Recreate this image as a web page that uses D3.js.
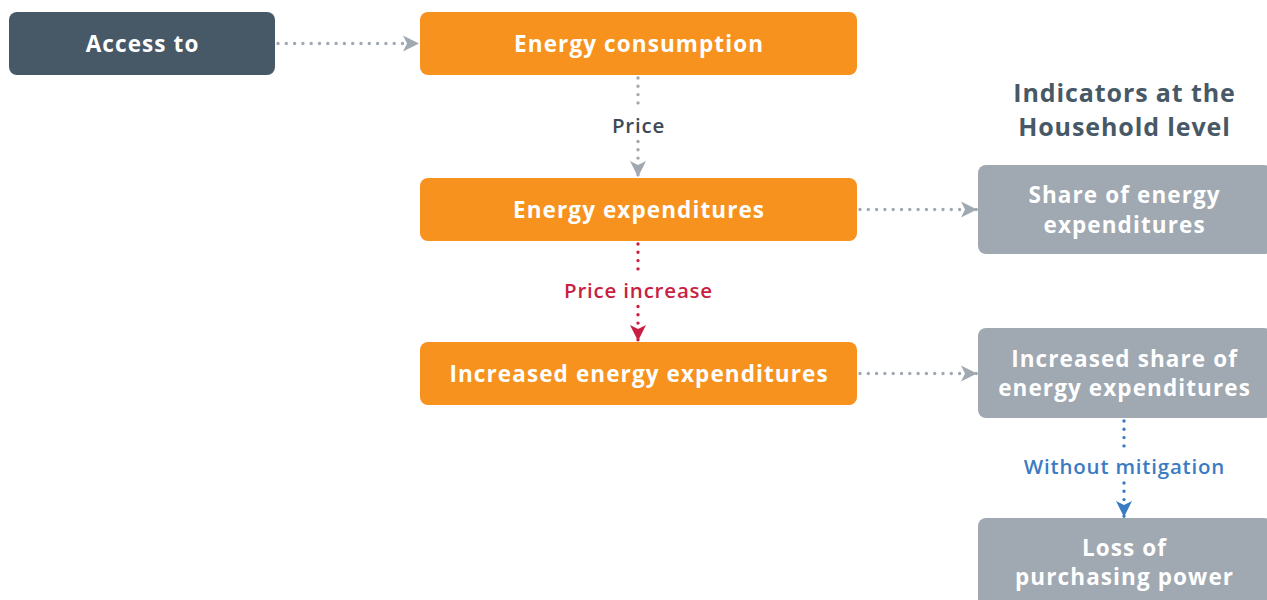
<!DOCTYPE html>
<html><head><meta charset="utf-8">
<script src="https://cdn.jsdelivr.net/npm/d3@7"></script>
<style>body{margin:0;background:#fff}svg{display:block}</style>
</head><body>
<svg id="c" width="1267" height="600"></svg>
<script>
// Nodes: id, label lines, kind
const nodeIds = ["access","cons","exp","inc","share","incshare","loss"];
const nodeLabels = [["Access to"],["Energy consumption"],["Energy expenditures"],["Increased energy expenditures"],["Share of energy","expenditures"],["Increased share of","energy expenditures"],["Loss of","purchasing power"]];
const nodeKinds = ["dark","orange","orange","orange","gray","gray","gray"];
// Edges: from, to, label, kind
const edgeFrom = ["access","cons","exp","exp","inc","incshare"];
const edgeTo = ["cons","exp","inc","share","incshare","loss"];
const edgeLabels = ["","Price","Price increase","","","Without mitigation"];
const edgeKinds = ["gray","gray","red","gray","gray","blue"];
const titleLines = ["Indicators at the","Household level"];

const colors = {dark:"#475866",orange:"#F7921E",gray:"#A0A8B1",red:"#C91F43",blue:"#3B7BC3",label:"#3D4A55"};
// layout
const layout = {
  access:{x:9,y:12,w:266,h:63},
  cons:{x:420,y:12,w:437,h:63},
  exp:{x:420,y:178,w:437,h:63},
  inc:{x:420,y:342,w:437,h:63},
  share:{x:978,y:165,w:294,h:89},
  incshare:{x:978,y:328,w:294,h:90},
  loss:{x:978,y:518,w:294,h:100}
};
const font = "'Open Sans', sans-serif";
const svg = d3.select("#c");
const defs = svg.append("defs");
Object.entries({gray:colors.gray,red:colors.red,blue:colors.blue}).forEach(([k,c])=>{
  defs.append("marker").attr("id","m-"+k).attr("viewBox","0 0 20 20").attr("refX",18).attr("refY",10)
    .attr("markerWidth",20).attr("markerHeight",20).attr("markerUnits","userSpaceOnUse").attr("orient","auto")
    .append("path").attr("d","M2,2 L18,10 L2,18 L6,10 Z").attr("fill",c);
});
const nodes = nodeIds.map((id,i)=>({id,lines:nodeLabels[i],kind:nodeKinds[i],...layout[id]}));
const byId = Object.fromEntries(nodes.map(n=>[n.id,n]));

const edges = edgeFrom.map((f,i)=>{
  const a=byId[f], b=byId[edgeTo[i]];
  let x1,y1,x2,y2;
  if (b.x > a.x + a.w) { // horizontal
    const cy = a.y + a.h/2;
    x1=a.x+a.w+3; y1=cy; x2=b.x-1; y2=cy;
  } else {
    const cx = (edgeTo[i]==="loss") ? a.x+146 : a.x+a.w/2 - 0.5;
    x1=cx; y1=a.y+a.h+3; x2=cx; y2=b.y-1;
  }
  return {x1,y1,x2,y2,label:edgeLabels[i],kind:edgeKinds[i]};
});

const eg = svg.append("g");
edges.forEach(e=>{
  const c = colors[e.kind];
  if (e.label) {
    const my=(e.y1+e.y2)/2 - 2;
    eg.append("line").attr("x1",e.x1).attr("y1",e.y1).attr("x2",e.x1).attr("y2",my-15)
      .attr("stroke",c).attr("stroke-width",3.4).attr("stroke-linecap","round").attr("stroke-dasharray","0 8.3");
    eg.append("line").attr("x1",e.x1).attr("y1",my+16).attr("x2",e.x2).attr("y2",e.y2)
      .attr("stroke",c).attr("stroke-width",3.4).attr("stroke-linecap","round").attr("stroke-dasharray","0 8.3")
      .attr("marker-end","url(#m-"+e.kind+")");
    eg.append("text").attr("x",e.x1+0.5).attr("y",my).attr("dy","0.35em").attr("text-anchor","middle")
      .attr("font-family",font).attr("font-size",20.5).attr("font-weight",600).attr("letter-spacing",0.8)
      .attr("fill", e.kind==="gray"?colors.label:c).text(e.label);
  } else {
    eg.append("line").attr("x1",e.x1).attr("y1",e.y1).attr("x2",e.x2).attr("y2",e.y2)
      .attr("stroke",c).attr("stroke-width",3.4).attr("stroke-linecap","round").attr("stroke-dasharray","0 8.3")
      .attr("marker-end","url(#m-"+e.kind+")");
  }
});

const ng = svg.selectAll("g.node").data(nodes).join("g").attr("class","node");
ng.append("rect").attr("x",d=>d.x).attr("y",d=>d.y).attr("width",d=>d.w).attr("height",d=>d.h)
  .attr("rx",8).attr("fill",d=>colors[d.kind]);
ng.each(function(d){
  const g=d3.select(this);
  const lh=29.5, n=d.lines.length;
  const cy = (d.id==="loss" ? d.y+44 : d.y+d.h/2) + 0.8;
  d.lines.forEach((t,i)=>{
    g.append("text").attr("x",d.x + (d.kind==="gray"?146:d.w/2) + 0.6).attr("y",cy+(i-(n-1)/2)*lh).attr("dy","0.35em")
      .attr("text-anchor","middle").attr("font-family",font).attr("font-weight",700).attr("font-size",22.5)
      .attr("letter-spacing",1.1).attr("fill","#fff").text(t);
  });
});
titleLines.forEach((t,i)=>{
  svg.append("text").attr("x",1124.5).attr("y",93.5+i*34).attr("dy","0.35em").attr("text-anchor","middle")
    .attr("font-family",font).attr("font-weight",700).attr("font-size",25).attr("letter-spacing",0.9)
    .attr("fill",colors.dark).text(t);
});
</script>
</body></html>
